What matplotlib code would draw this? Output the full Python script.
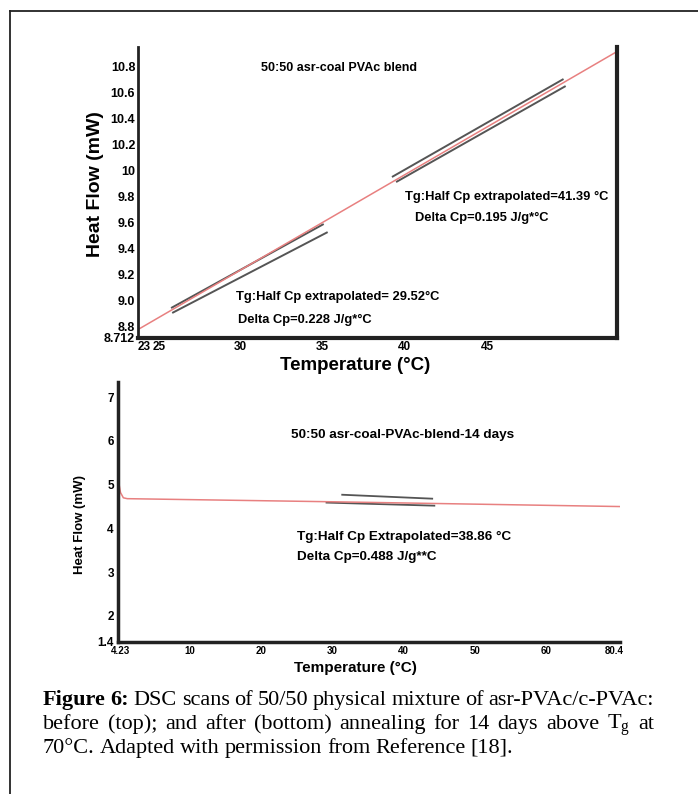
import numpy as np
import matplotlib.pyplot as plt
from matplotlib.lines import Line2D

plt.rcParams['mathtext.fontset'] = 'custom'
plt.rcParams['mathtext.rm'] = 'Liberation Serif'
plt.rcParams['mathtext.it'] = 'Liberation Serif:italic'

sans = ['Liberation Sans', 'DejaVu Sans']
serif = ['Liberation Serif', 'DejaVu Serif']

# top scan: before annealing
temp_top = [23.8, 52.9]
hf_top = [8.777, 10.915]
tan1_upper_t, tan1_upper_hf = [25.86, 35.03], [8.946, 9.585]
tan1_lower_t, tan1_lower_hf = [25.93, 35.27], [8.908, 9.523]
tan2_upper_t, tan2_upper_hf = [39.28, 49.6], [9.954, 10.70]
tan2_lower_t, tan2_lower_hf = [39.53, 49.73], [9.915, 10.646]
xticks_top = [24.15, 25.1, 30, 35, 40, 45]
xlabels_top = ['23', '25', '30', '35', '40', '45']
yticks_top = [8.712, 8.8, 9.0, 9.2, 9.4, 9.6, 9.8, 10.0, 10.2, 10.4, 10.6, 10.8]
ylabels_top = ['8.712', '8.8', '9.0', '9.2', '9.4', '9.6', '9.8', '10', '10.2', '10.4', '10.6', '10.8']

# bottom scan: after 14 days annealing
temp_bot = [0.1, 0.35, 0.75, 1.3, 29.6, 70.2]
hf_bot = [5.05, 4.82, 4.70, 4.68, 4.61, 4.50]
tan3_upper_t, tan3_upper_hf = [31.4, 44.0], [4.77, 4.68]
tan3_lower_t, tan3_lower_hf = [29.2, 44.3], [4.59, 4.52]
xticks_bot = [0.4, 10, 20, 30, 40, 50, 60, 69.5]
xlabels_bot = ['4.23', '10', '20', '30', '40', '50', '60', '80.4']
yticks_bot = [1.4, 2, 3, 4, 5, 6, 7]
ylabels_bot = ['1.4', '2', '3', '4', '5', '6', '7']

red = '#e88080'
gray = '#555555'

fig = plt.figure(figsize=(6.98, 7.94), dpi=100)

# outer frame
fig.add_artist(Line2D([10/698, 10/698], [0, 1 - 11/794], color='#222222', lw=1.3))
fig.add_artist(Line2D([10/698, 1], [1 - 11/794, 1 - 11/794], color='#222222', lw=1.3))

# ---- top panel ----
ax1 = fig.add_axes([138/698, 1 - 338/794, 479/698, 291/794])
ax1.plot(tan1_upper_t, tan1_upper_hf, color=gray, lw=1.4)
ax1.plot(tan1_lower_t, tan1_lower_hf, color=gray, lw=1.4)
ax1.plot(tan2_upper_t, tan2_upper_hf, color=gray, lw=1.4)
ax1.plot(tan2_lower_t, tan2_lower_hf, color=gray, lw=1.4)
ax1.plot(temp_top, hf_top, color=red, lw=1.1)
ax1.set_xlim(23.8, 52.9)
ax1.set_ylim(8.712, 10.95)
ax1.spines['top'].set_visible(False)
ax1.spines['left'].set_linewidth(2)
ax1.spines['bottom'].set_linewidth(3)
ax1.spines['right'].set_linewidth(3)
for s in ax1.spines.values():
    s.set_color('#222222')
ax1.set_xticks(xticks_top)
ax1.set_xticklabels(xlabels_top, family=sans, weight='bold', size=8.5)
ax1.set_yticks(yticks_top)
ax1.set_yticklabels(ylabels_top, family=sans, weight='bold', size=9)
ax1.tick_params(length=0, pad=2)
ax1.text(0.42, 0.928, '50:50 asr-coal PVAc blend', transform=ax1.transAxes,
         ha='center', va='center', family=sans, weight='bold', size=9)
ax1.text(0.557, 0.485, 'Tg:Half Cp extrapolated=41.39 °C', transform=ax1.transAxes,
         ha='left', va='center', family=sans, weight='bold', size=9.3)
ax1.text(0.578, 0.412, 'Delta Cp=0.195 J/g*°C', transform=ax1.transAxes,
         ha='left', va='center', family=sans, weight='bold', size=9.3)
ax1.text(0.205, 0.141, 'Tg:Half Cp extrapolated= 29.52°C', transform=ax1.transAxes,
         ha='left', va='center', family=sans, weight='bold', size=9.3)
ax1.text(0.209, 0.062, 'Delta Cp=0.228 J/g*°C', transform=ax1.transAxes,
         ha='left', va='center', family=sans, weight='bold', size=9.3)
ax1.text(-0.088, 0.53, 'Heat Flow (mW)', transform=ax1.transAxes, rotation=90,
         ha='center', va='center', family=sans, weight='bold', size=14)
ax1.text(0.453, -0.096, 'Temperature (°C)', transform=ax1.transAxes,
         ha='center', va='center', family=sans, weight='bold', size=13.5)

# ---- bottom panel ----
ax2 = fig.add_axes([118/698, 1 - 642/794, 502/698, 260/794])
ax2.plot(tan3_upper_t, tan3_upper_hf, color=gray, lw=1.3)
ax2.plot(tan3_lower_t, tan3_lower_hf, color=gray, lw=1.3)
ax2.plot(temp_bot, hf_bot, color=red, lw=1.1)
ax2.set_xlim(0, 70.3)
ax2.set_ylim(1.4, 7.35)
ax2.spines['top'].set_visible(False)
ax2.spines['right'].set_visible(False)
ax2.spines['left'].set_linewidth(2.5)
ax2.spines['bottom'].set_linewidth(2.5)
for s in ax2.spines.values():
    s.set_color('#222222')
ax2.set_xticks(xticks_bot)
ax2.set_xticklabels(xlabels_bot, family=sans, weight='bold', size=7)
ax2.set_yticks(yticks_bot)
ax2.set_yticklabels(ylabels_bot, family=sans, weight='bold', size=8.5)
ax2.tick_params(length=0, pad=3)
ax2.text(0.566, 0.796, '50:50 asr-coal-PVAc-blend-14 days', transform=ax2.transAxes,
         ha='center', va='center', family=sans, weight='bold', size=9.7)
ax2.text(0.357, 0.404, 'Tg:Half Cp Extrapolated=38.86 °C', transform=ax2.transAxes,
         ha='left', va='center', family=sans, weight='bold', size=9.7)
ax2.text(0.357, 0.327, 'Delta Cp=0.488 J/g**C', transform=ax2.transAxes,
         ha='left', va='center', family=sans, weight='bold', size=9.7)
ax2.text(-0.076, 0.45, 'Heat Flow (mW)', transform=ax2.transAxes, rotation=90,
         ha='center', va='center', family=sans, weight='bold', size=9.5)
ax2.text(0.472, -0.1, 'Temperature (°C)', transform=ax2.transAxes,
         ha='center', va='center', family=sans, weight='bold', size=11)

# ---- caption ----
cap_lines = [
    [('Figure', 'bold'), ('6:', 'bold'), ('DSC', 'normal'), ('scans', 'normal'), ('of', 'normal'),
     ('50/50', 'normal'), ('physical', 'normal'), ('mixture', 'normal'), ('of', 'normal'),
     ('asr-PVAc/c-PVAc:', 'normal')],
    [('before', 'normal'), ('(top);', 'normal'), ('and', 'normal'), ('after', 'normal'),
     ('(bottom)', 'normal'), ('annealing', 'normal'), ('for', 'normal'), ('14', 'normal'),
     ('days', 'normal'), ('above', 'normal'), (r'T$_\mathrm{g}$', 'normal'), ('at', 'normal')],
    [('70°C.', 'normal'), ('Adapted', 'normal'), ('with', 'normal'), ('permission', 'normal'),
     ('from', 'normal'), ('Reference', 'normal'), ('[18].', 'normal')],
]
cap_y = [705, 729, 753]
cap_x0, cap_x1 = 43, 654
renderer = fig.canvas.get_renderer()
for i, words in enumerate(cap_lines):
    texts = [fig.text(0, 1 - cap_y[i]/794, w, family=serif, weight=wt, size=16,
                      va='baseline', ha='left') for w, wt in words]
    widths = [t.get_window_extent(renderer).width for t in texts]
    if i < 2:
        gap = (cap_x1 - cap_x0 - sum(widths)) / (len(words) - 1)
    else:
        gap = 5
    x = cap_x0
    for t, w in zip(texts, widths):
        t.set_x(x / 698)
        x += w + gap

fig.savefig('out.png', dpi=100)
